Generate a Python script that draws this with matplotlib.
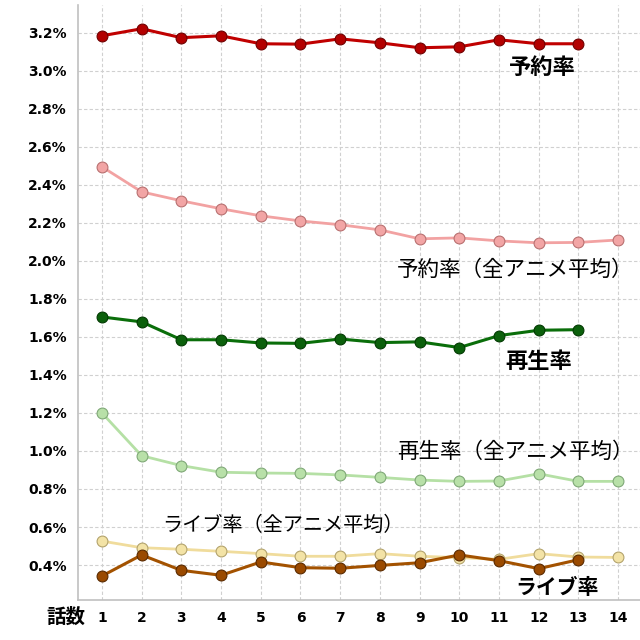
import matplotlib
matplotlib.use("Agg")
from matplotlib import pyplot as plt
from matplotlib.ticker import FuncFormatter, MultipleLocator

plt.rcParams['font.family'] = ['Noto Sans CJK JP', 'DejaVu Sans']

# 話数
episodes = list(range(1, 15))

# 予約率 / 予約率（全アニメ平均）
reserve = [3.184, 3.221, 3.174, 3.184, 3.142, 3.140, 3.168, 3.147, 3.121, 3.126, 3.163, 3.142, 3.142]
reserve_avg = [2.495, 2.363, 2.316, 2.274, 2.237, 2.210, 2.190, 2.163, 2.116, 2.121, 2.105, 2.095, 2.097, 2.110]

# 再生率 / 再生率（全アニメ平均）
play = [1.705, 1.679, 1.585, 1.585, 1.568, 1.566, 1.589, 1.570, 1.574, 1.544, 1.607, 1.635, 1.638]
play_avg = [1.200, 0.975, 0.923, 0.888, 0.884, 0.882, 0.874, 0.861, 0.847, 0.840, 0.842, 0.880, 0.840, 0.840]

# ライブ率 / ライブ率（全アニメ平均）
live = [0.342, 0.453, 0.372, 0.346, 0.416, 0.386, 0.383, 0.398, 0.412, 0.453, 0.423, 0.381, 0.428]
live_avg = [0.526, 0.491, 0.483, 0.472, 0.460, 0.446, 0.446, 0.460, 0.446, 0.439, 0.430, 0.460, 0.442, 0.440]

series = [
    # values, line color, marker face, marker edge, linewidth
    (live_avg, '#f0dc9c', '#f3e3a6', '#b3a36c', 2.0),
    (live, '#a35200', '#9a4a00', '#5a2a00', 2.2),
    (play_avg, '#b5e0a5', '#b8e0a8', '#7fa877', 2.0),
    (play, '#0a6e0a', '#0b600b', '#023a02', 2.2),
    (reserve_avg, '#f2a2a2', '#f2a5a5', '#b87070', 2.0),
    (reserve, '#c00000', '#b30000', '#700000', 2.2),
]

fig = plt.figure(figsize=(6.4, 6.4), dpi=100)
ax = fig.add_axes([0.122, 0.0625, 0.878, 0.93])

for vals, lc, fc, ec, lw in series:
    ax.plot(episodes[:len(vals)], vals, color=lc, linewidth=lw,
            marker='o', markersize=7.8, markerfacecolor=fc,
            markeredgecolor=ec, markeredgewidth=0.8, zorder=3)

ax.set_xlim(0.4, 14.55)
ax.set_ylim(0.216, 3.347)
ax.set_xticks(episodes)
ax.yaxis.set_major_locator(MultipleLocator(0.2))
ax.yaxis.set_major_formatter(FuncFormatter(lambda v, p: "{:.1f}%".format(v)))
ax.grid(True, color='#d0d0d0', linestyle=(0, (3, 2)), linewidth=0.8, zorder=0)
ax.tick_params(length=0, pad=8)
for lab in ax.get_xticklabels() + ax.get_yticklabels():
    lab.set_fontfamily('DejaVu Sans')
    lab.set_fontweight('bold')
    lab.set_fontsize(10)
for s in ['top', 'right']:
    ax.spines[s].set_visible(False)
for s in ['left', 'bottom']:
    ax.spines[s].set_color('#c0c0c0')
    ax.spines[s].set_linewidth(1.2)

# series labels
ax.text(12.1, 3.015, "予約率", fontsize=16, fontweight='bold', ha='center', va='center')
ax.text(11.4, 1.955, "予約率（全アニメ平均）", fontsize=15.5, ha='center', va='center')
ax.text(12.0, 1.47, "再生率", fontsize=16, fontweight='bold', ha='center', va='center')
ax.text(11.4, 0.995, "再生率（全アニメ平均）", fontsize=15.5, ha='center', va='center')
ax.text(5.55, 0.61, "ライブ率（全アニメ平均）", fontsize=14.5, ha='center', va='center')
ax.text(12.45, 0.28, "ライブ率", fontsize=15, fontweight='bold', ha='center', va='center')

fig.text(66 / 640, 1 - 617 / 640, "話数", fontsize=14, fontweight='bold', ha='center', va='center')

fig.savefig("out.png", dpi=100)
